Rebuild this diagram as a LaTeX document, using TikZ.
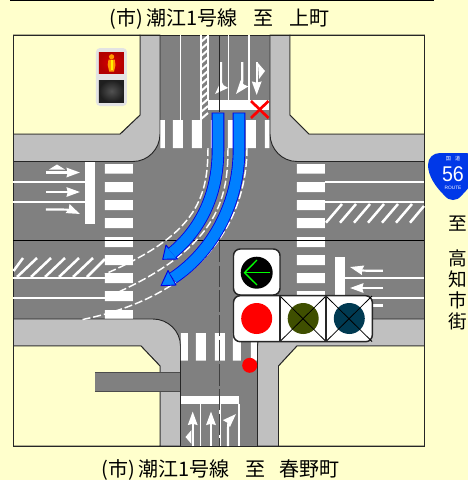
\documentclass[tikz,border=0pt]{standalone}
\usepackage{fontspec}
\setmainfont{Noto Sans CJK JP}
\newfontfamily\routefont{Liberation Sans}
\usetikzlibrary{arrows.meta}
\definecolor{paper}{HTML}{FFFFCC}
\definecolor{road}{HTML}{808080}
\definecolor{walk}{HTML}{C0C0C0}
\definecolor{lampblue}{HTML}{0080FF}
\definecolor{lampolive}{HTML}{3F4F00}
\definecolor{lampteal}{HTML}{003A52}
\definecolor{shield}{HTML}{0038E8}
\newcommand{\parL}{\kern.14em(\kern.02em}
\newcommand{\parR}{\kern.02em)\kern.14em}
\begin{document}
\begin{tikzpicture}[x=.75pt, y=-.75pt]

\tikzstyle{every node} = [inner sep=0pt, text=black]
\tikzstyle{title} = [font=\fontsize{15pt}{15pt}\selectfont]
\tikzstyle{side} = [font=\fontsize{14pt}{15.75pt}\selectfont, align=center]
\tikzstyle{corner} = [fill=walk, draw=black!85, line width=.7pt]
\tikzstyle{block} = [fill=paper, draw=black!85, line width=.7pt]
\tikzstyle{lane} = [draw=white, line width=1.1pt]
\tikzstyle{hatch} = [draw=white, line width=1.9pt]
\tikzstyle{guide} = [draw=white, line width=1.1pt, dash pattern=on 6pt off 2.2pt]
\tikzstyle{lanearrow} = [draw=white, line width=1.6pt, -{Stealth[length=10pt, width=7pt, inset=.8pt]}]
\tikzstyle{shaftout} = [draw=blue!90!black, line width=9.4pt]
\tikzstyle{shaftin} = [draw=lampblue, line width=8.1pt]
\tikzstyle{bluehead} = [fill=lampblue, draw=blue!90!black, line width=.7pt, line join=round]
\tikzstyle{panel} = [fill=white, draw=black!85, line width=1.1pt, rounded corners=5pt]
\tikzstyle{cross} = [draw=black, line width=.6pt]

\useasboundingbox (0,0) rectangle (468,480);
\fill[paper] (0,0) rectangle (468,480);
\draw[black, line width=1pt] (10,0) -- (434,0);
\fill[road] (13.5,35) rectangle (424.5,446);

\filldraw[corner] (13.5,134) -- (120,134) -- (140,115) -- (140,35) -- (160,35) -- (160,134) .. controls (160,149) and (148,161.5) .. (133,161.5) -- (13.5,161.5) -- cycle;
\filldraw[corner] (424.5,134) -- (309,134) -- (290,115) -- (290,35) -- (270,35) -- (270,134) .. controls (270,149) and (282,161.5) .. (297,161.5) -- (424.5,161.5) -- cycle;
\filldraw[corner] (13.5,346) -- (141,346) -- (160,366) -- (160,446) -- (180.5,446) -- (180.5,346) .. controls (180.5,331) and (168,319) .. (153,319) -- (13.5,319) -- cycle;
\filldraw[corner] (424.5,346) -- (297,346) -- (278.5,366) -- (278.5,446) -- (257.5,446) -- (257.5,346) .. controls (257.5,331) and (270,319) .. (285,319) -- (424.5,319) -- cycle;
\filldraw[block] (13.5,35) -- (140,35) -- (140,115) -- (120,134) -- (13.5,134) -- cycle;
\filldraw[block] (424.5,35) -- (290,35) -- (290,115) -- (309,134) -- (424.5,134) -- cycle;
\filldraw[block] (13.5,446) -- (160,446) -- (160,366) -- (141,346) -- (13.5,346) -- cycle;
\filldraw[block] (424.5,446) -- (278.5,446) -- (278.5,366) -- (297,346) -- (424.5,346) -- cycle;
\fill[road] (95,372) rectangle (180.5,391);
\draw[black!70, line width=.7pt] (95,372) -- (180.5,372);
\draw[black!70, line width=.7pt] (95,391) -- (180.5,391);
\draw[black!85, line width=.7pt] (13.5,35) rectangle (424.5,446);

\fill[white] (160.5,120) rectangle (165,148) (173,120) rectangle (183,148) (192,120) rectangle (202,148) (211,120) rectangle (221,148) (228,120) rectangle (238,148) (246,120) rectangle (256,148) (265,120) rectangle (269.5,148);
\fill[white] (181,333) rectangle (188,360.5) (196,333) rectangle (206,360.5) (215,333) rectangle (225,360.5) (233,333) rectangle (241,360.5) (251,333) rectangle (257,360.5);
\fill[white] (105,164) rectangle (133,173.5) (105,182) rectangle (133,192) (105,200) rectangle (133,210) (105,218) rectangle (133,228) (105,237) rectangle (133,247) (105,255) rectangle (133,265) (105,273) rectangle (133,283) (105,291) rectangle (133,301) (105,310) rectangle (133,318.5);
\fill[white] (297,164) rectangle (325,173.5) (297,182) rectangle (325,192) (297,200) rectangle (325,210) (297,218) rectangle (325,228) (297,237) rectangle (325,247) (297,255) rectangle (325,265) (297,273) rectangle (325,283) (297,291) rectangle (325,301) (297,310) rectangle (325,318.5);

\fill[white] (208,100) rectangle (269.5,110);
\fill[white] (181,396) rectangle (239.5,404);
\fill[white] (85,162) rectangle (95,224);
\fill[white] (335,257) rectangle (345,319);

\draw[lane] (180.5,35) -- (180.5,120);
\draw[lane] (201,35) -- (201,120);
\draw[lane] (208,35) -- (208,100);
\draw[lane] (228.5,35) -- (228.5,100);
\draw[lane] (249,35) -- (249,100);
\draw[lane] (200.7,404) -- (200.7,446);
\draw[lane] (220,404) -- (220,446);
\draw[lane] (239,404) -- (239,446);
\draw[lane] (13.5,182) -- (85,182);
\draw[lane] (13.5,202) -- (85,202);
\draw[lane] (325,182) -- (424.5,182);
\draw[lane] (325,202) -- (424.5,202);
\draw[lane] (13.5,278) -- (105,278);
\draw[lane] (13.5,298) -- (105,298);
\draw[lane] (345,278) -- (424.5,278);
\draw[lane] (345,298) -- (424.5,298);

\draw[draw=white, line width=1.5pt] (201,42) -- (208,36) (201,49) -- (208,43) (201,56) -- (208,50) (201,63) -- (208,57) (201,70) -- (208,64) (201,77) -- (208,71) (201,84) -- (208,78) (201,91) -- (208,85) (201,98) -- (208,92) (201,105) -- (208,99) (201,112) -- (208,106) (201,119) -- (208,113);
\draw[hatch] (13.5,271) -- (23,258) (17,277) -- (37,258) (31,277) -- (51,258) (45,277) -- (65,258) (59,277) -- (79,258) (73,277) -- (93,258) (87,277) -- (105,259);
\draw[hatch] (326,222.7) -- (342,204) (340,222.7) -- (356,204) (354,222.7) -- (370,204) (368,222.7) -- (384,204) (382,222.7) -- (398,204) (396,222.7) -- (412,204) (410,222.7) -- (424,206);

\draw[lanearrow] (46,172.5) -- (80,172.5);
\fill[white] (49,169.5) -- (57,164.5) -- (65,169.5) -- cycle;
\draw[lanearrow] (46,192) -- (80,192);
\draw[lanearrow] (46,209.5) -- (62,209.5) .. controls (68,209.5) and (72,210.5) .. (80,214);
\draw[lanearrow] (383,270.7) -- (366,270.7) .. controls (360,270.7) and (358,269) .. (350,267);
\draw[lanearrow] (383,288) -- (350,288);
\draw[lanearrow] (383,305.5) -- (350,305.5);
\draw[lanearrow] (221,62) -- (221,82) .. controls (221,88) and (219,90) .. (215,94);
\draw[lanearrow] (242.3,62) -- (242.3,80) .. controls (242.3,86) and (240,89) .. (236,94);
\draw[lanearrow] (256.7,62) -- (256.7,95);
\fill[white] (258,63) -- (265,71) -- (259,79) -- cycle;
\draw[lanearrow] (192.7,446) -- (192.7,411.5);
\fill[white] (191.5,430) -- (185.5,437) -- (191.5,444) -- cycle;
\draw[lanearrow] (211,446) -- (211,411.5);
\draw[lanearrow] (228,446) -- (228,428) .. controls (228,422) and (230,420) .. (236,414);

\draw[black, line width=.8pt] (13.5,240.5) -- (424.5,240.5);
\draw[black!85, line width=.9pt] (219.3,35) -- (219.3,112);
\draw[black!75, line width=.9pt, dash pattern=on 16pt off 2.5pt] (219.3,241) -- (219.3,446);

\draw[guide] (208,148) .. controls (208,200) and (195,235) .. (105,274);
\draw[guide] (228,148) .. controls (228,200) and (218,250) .. (105,298);
\draw[guide] (247,148) .. controls (247,215) and (208,295) .. (80,320);

\draw[shaftout] (218,112.5) -- (218,150) .. controls (218,195) and (200,230) .. (172,253);
\filldraw[bluehead] (162.7,259.3) -- (166,245) -- (177.5,259) -- cycle;
\draw[shaftin] (218,113.3) -- (218,150) .. controls (218,195) and (200,230) .. (172,253);
\draw[shaftout] (239,112.5) -- (239,150) .. controls (239,200) and (215,250) .. (173,278);
\filldraw[bluehead] (161,285.7) -- (168,270.5) -- (176,285) -- cycle;
\draw[shaftin] (239,113.3) -- (239,150) .. controls (239,200) and (215,250) .. (173,278);

\draw[red, line width=2pt] (251,101) -- (268.5,118);
\draw[red, line width=2pt] (268.5,101) -- (251,118);

\draw[panel] (233.5,249) rectangle (280,295);
\fill[black] (256.7,272.7) circle (16);
\draw[green, line width=1pt] (270,272.7) -- (244.5,272.7);
\draw[green, line width=1pt] (257,260) -- (244.5,272.7) -- (257,285);
\draw[panel] (233.5,295.7) rectangle (372.3,341.7);
\fill[red] (256.7,318.5) circle (15.5);
\fill[lampolive] (303.2,318.5) circle (15.5);
\fill[lampteal] (349.3,318.5) circle (15.5);
\draw[cross] (280,296) -- (326,341.5);
\draw[cross] (326,296) -- (280,341.5);
\draw[cross] (326,296) -- (372,341.5);
\draw[cross] (372,296) -- (326,341.5);
\draw[black!85, line width=.8pt] (280,295.7) -- (280,341.7);
\draw[black!85, line width=.8pt] (326,295.7) -- (326,341.7);
\fill[red] (249.7,365.3) circle (7.5);

\fill[black!11, rounded corners=3pt] (96,48) rectangle (127,106);
\shade[inner color=red!85!black, outer color=red!70!black] (99,52) rectangle (124,73);
\fill[orange!80!yellow] (111.6,56.8) circle (2.6);
\fill[orange!80!yellow] (108.5,59.5) -- (114.7,59.5) -- (115.5,65) -- (114,71.5) -- (109.2,71.5) -- (107.7,65) -- cycle;
\fill[yellow] (110.6,60) rectangle (112.6,70);
\shade[inner color=black!68, outer color=black!88] (99,80) rectangle (124,102);

\fill[shield] (440,153) -- (466,153) .. controls (473,153) and (478,158) .. (478,165) .. controls (478,176) and (470,187) .. (463,194) .. controls (459,199) and (456,200) .. (453,200) .. controls (450,200) and (447,199) .. (443,194) .. controls (436,187) and (428,176) .. (428,165) .. controls (428,158) and (433,153) .. (440,153) -- cycle;
\node[text=white, font=\fontsize{3.8pt}{4pt}\selectfont] (kokudo) at (453,158.7) {国\hspace{.8em}道};
\node[text=white, font=\routefont\fontsize{16pt}{16pt}\selectfont, xscale=.92] (num) at (453,173.7) {56};
\node[text=white, font=\routefont\fontsize{3.6pt}{4pt}\selectfont] (route) at (453,188) {ROUTE};

\node[title] (north) at (218,19) {\parL 市\parR 潮江1号線\hspace{.8em}至\hspace{.8em}上町};
\node[title] (south) at (219,470.5) {\parL 市\parR 潮江1号線\hspace{.8em}至\hspace{.7em}春野町};
\node[side] (to) at (457.5,223.5) {至};
\node[side] (kochi) at (457.5,290) {高\\知\\市\\街};
\end{tikzpicture}
\end{document}
